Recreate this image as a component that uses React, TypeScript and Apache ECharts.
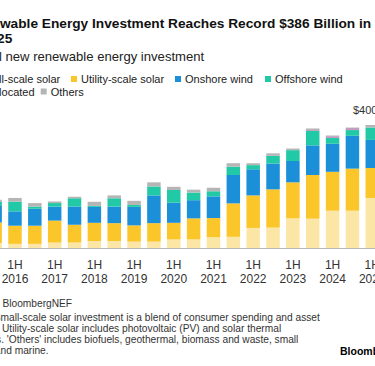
import React, { useEffect, useRef } from "react";
import * as echarts from "echarts";

const categories = ["2H 2015","1H 2016","2H 2016","1H 2017","2H 2017","1H 2018","2H 2018","1H 2019","2H 2019","1H 2020","2H 2020","1H 2021","2H 2021","1H 2022","2H 2022","1H 2023","2H 2023","1H 2024","2H 2024","1H 2025"];
const smallScaleSolar = [16, 13, 13, 17, 17, 22, 22, 20, 20, 27, 27, 34, 35, 63, 64, 93, 92, 117, 117, 157];
const utilityScaleSolar = [64, 57, 57, 69, 56, 57, 56, 51, 58, 52, 66, 60, 105, 102, 120, 113, 137, 122, 132, 94];
const onshoreWind = [52, 45, 53, 44, 57, 50, 52, 58, 87, 63, 57, 68, 89, 82, 81, 67, 93, 88, 103, 88];
const offshoreWind = [13, 30, 7, 11, 26, 3, 26, 6, 28, 40, 24, 16, 26, 13, 24, 34, 45, 18, 18, 39];
const unallocated = [0, 0, 0, 0, 0, 0, 0, 0, 0, 0, 0, 0, 0, 0, 0, 0, 3, 6, 7, 1];
const others = [6, 12, 11, 5, 5, 13, 9, 13, 13, 10, 9, 11, 11, 6, 8, 5, 5, 2, 1, 7];

const seriesNames = ["Small-scale solar", "Utility-scale solar", "Onshore wind", "Offshore wind", "Unallocated", "Others"];
const seriesColors = ["#fce6a6", "#fbc62a", "#1b8fd7", "#22c9a7", "#c49dc2", "#b5b5b5"];
const seriesData = [smallScaleSolar, utilityScaleSolar, onshoreWind, offshoreWind, unallocated, others];

const titleLine1 = "Renewable Energy Investment Reaches Record $386 Billion in";
const titleLine2 = "1H 2025";
const subtitle = "Global new renewable energy investment";
const axisUnitLabel = "$400B";
const footerSource = "Source: BloombergNEF";
const footerNotes = [
  "Note: Small-scale solar investment is a blend of consumer spending and asset",
  "finance. Utility-scale solar includes photovoltaic (PV) and solar thermal",
  "projects. 'Others' includes biofuels, geothermal, biomass and waste, small",
  "hydro and marine.",
];
const brand = "Bloomberg";

const FONT = "'Liberation Sans', Arial, sans-serif";
// chart canvas extends beyond the visible 375px window (the reference is a crop)
const OFF = 50;
const CHART_W = 470;

export default function App() {
  const ref = useRef<HTMLDivElement>(null);
  useEffect(() => {
    if (!ref.current) return;
    const chart = echarts.init(ref.current, undefined, { renderer: "svg" });

    const legendPos = [
      { x: 16.5, y: 79 },
      { x: 121, y: 79 },
      { x: 225, y: 79 },
      { x: 315, y: 79 },
      { x: 16.5, y: 91.5 },
      { x: 90.7, y: 91.5 },
    ];
    const legendGraphics: any[] = [];
    seriesNames.forEach((name, i) => {
      const p = legendPos[i];
      legendGraphics.push({
        type: "rect",
        shape: { x: p.x, y: p.y - 3, width: 6, height: 6 },
        style: { fill: seriesColors[i] },
      });
      legendGraphics.push({
        type: "text",
        x: p.x + 10,
        y: p.y,
        style: { text: name, fill: "#222", font: `11px ${FONT}`, textVerticalAlign: "middle" },
      });
    });

    const noteX = [16.5, 13.5, 15.5, 16.5];
    const footerGraphics: any[] = footerNotes.map((t, i) => ({
      type: "text",
      x: noteX[i],
      y: 317.3 + i * 11.2,
      style: { text: t, fill: "#333", font: `10.2px ${FONT}`, textVerticalAlign: "middle" },
    }));

    const option: any = {
      animation: false,
      backgroundColor: "#ffffff",
      grid: { left: 35.2, width: 397, top: 120.5, height: 127.5, containLabel: false },
      xAxis: {
        type: "category",
        data: categories,
        boundaryGap: true,
        axisLine: { lineStyle: { color: "#b8b8b8", width: 1 } },
        axisTick: {
          alignWithLabel: true,
          interval: (i: number) => i % 2 === 1,
          length: 3,
          lineStyle: { color: "#777" },
        },
        axisLabel: {
          interval: (i: number) => i % 2 === 1,
          formatter: (v: string) => v.replace(" ", "\n"),
          fontFamily: FONT,
          fontSize: 12,
          lineHeight: 14,
          color: "#333",
          margin: 10,
        },
      },
      yAxis: { type: "value", min: 0, max: 400, show: false, splitLine: { show: false } },
      series: seriesNames.map((name, i) => ({
        name,
        type: "bar",
        stack: "total",
        barWidth: 13.5,
        data: seriesData[i],
        itemStyle: { color: seriesColors[i] },
      })),
      graphic: [
        {
          type: "text", x: 16.5, y: 23.5,
          style: { text: titleLine1, fill: "#111", font: `bold 13.7px ${FONT}`, textVerticalAlign: "middle" },
        },
        {
          type: "text", x: 10.5, y: 38.5,
          style: { text: titleLine2, fill: "#111", font: `bold 13.7px ${FONT}`, textVerticalAlign: "middle" },
        },
        {
          type: "text", x: 14, y: 56,
          style: { text: subtitle, fill: "#222", font: `13.1px ${FONT}`, textVerticalAlign: "middle" },
        },
        ...legendGraphics,
        {
          type: "text", x: 403, y: 110,
          style: { text: axisUnitLabel, fill: "#333", font: `11px ${FONT}`, textVerticalAlign: "middle" },
        },
        {
          type: "text", x: 14.5, y: 303.5,
          style: { text: footerSource, fill: "#333", font: `10.2px ${FONT}`, textVerticalAlign: "middle" },
        },
        ...footerGraphics,
        {
          type: "text", x: 390, y: 351,
          style: { text: brand, fill: "#000", font: `bold 10.5px ${FONT}`, textVerticalAlign: "middle" },
        },
      ],
    };
    chart.setOption(option);
    return () => chart.dispose();
  }, []);
  return (
    <div style={{ position: "absolute", left: 0, top: 0, width: 375, height: 366, overflow: "hidden", background: "#fff" }}>
      <div
        ref={ref}
        style={{ position: "absolute", left: -OFF, top: 0, width: CHART_W, height: 366 }}
      />
    </div>
  );
}
